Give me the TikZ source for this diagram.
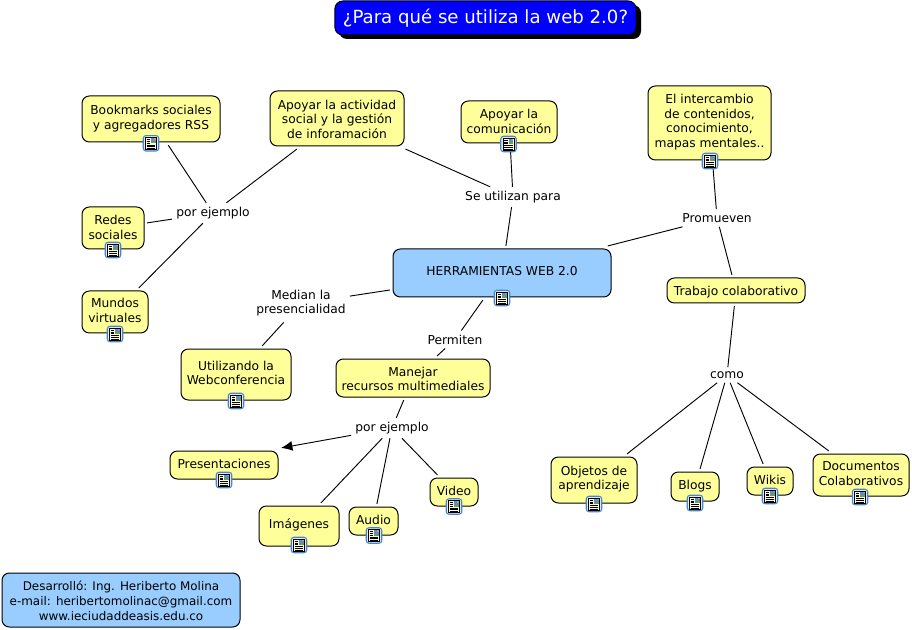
\documentclass[tikz,border=0pt]{standalone}
\usepackage{fontspec}
\setmainfont{DejaVu Sans}
\usetikzlibrary{arrows.meta,calc}
\definecolor{conceptfill}{HTML}{FFFF99}
\definecolor{bluefill}{HTML}{99CCFF}
\definecolor{iconblue}{HTML}{4A86C8}
\definecolor{iconpale}{HTML}{DCE9F7}
\definecolor{iconpage}{HTML}{FFFBE0}
\definecolor{iconsky}{HTML}{5A8FD0}
\definecolor{iconland}{HTML}{6F9A5A}
\definecolor{iconsun}{HTML}{E8925A}
\newcommand{\textsizes}{\fontsize{9.2pt}{11pt}\selectfont}
\tikzset{
  x=0.75pt,y=-0.75pt,
  conceptbox/.style={draw=black,line width=0.75pt,rounded corners=5.5pt,fill=conceptfill,font=\textsizes,text=black,inner sep=0pt,outer sep=2.3pt},
  linktext/.style={font=\textsizes,inner sep=0pt,outer sep=3.2pt,text=black},
  conn/.style={draw=black,line width=0.7pt},
  arrowconn/.style={conn,-{Latex[length=8.5pt,width=7.5pt]}},
  iconframe/.style={draw=iconblue,line width=0.8pt,fill=iconpale,rounded corners=2pt,minimum size=11.6pt,inner sep=0pt},
}
\newcommand{\stacked}[1]{\begin{tabular}{@{}c@{}}#1\end{tabular}}
% \cbox[fill]{name}{x1}{y1}{x2}{y2}{lift in pt}{text}
\newcommand{\cbox}[8][conceptfill]{%
  \node[conceptbox,fill=#1,minimum width={(#5-#3)*0.75pt},minimum height={(#6-#4)*0.75pt}] (#2) at ({(#3+#5)/2},{(#4+#6)/2}) {\raisebox{\dimexpr #7pt-1.9pt\relax}[\height][\depth]{\stacked{#8}}};}
\newcommand{\noteicon}[3]{%
  \node[iconframe] (#1) at (#2,#3) {};
  \draw[black,line width=0.4pt,fill=iconpage] ($(#1.center)+(-5.5,-6)$) rectangle ($(#1.center)+(5.5,6)$);
  \fill[iconsky] ($(#1.center)+(0,-5.2)$) rectangle ($(#1.center)+(4.7,0)$);
  \fill[iconland] ($(#1.center)+(0,-1.8)$) rectangle ($(#1.center)+(4.7,0)$);
  \fill[iconsun] ($(#1.center)+(3,-5.2)$) rectangle ($(#1.center)+(4.7,-3.6)$);
  \foreach \yy in {-4,-2.2,-0.4}{\draw[black,line width=0.38pt] ($(#1.center)+(-4.2,\yy)$) -- ($(#1.center)+(-1,\yy)$);}
  \foreach \yy in {1.6,3.2,4.8}{\draw[black,line width=0.38pt] ($(#1.center)+(-4.2,\yy)$) -- ($(#1.center)+(4.2,\yy)$);}
}
\begin{document}
\begin{tikzpicture}
\useasboundingbox (0,0) rectangle (912,630);
% title
\fill[black,rounded corners=6pt] (339,5) rectangle (641,39);
\node[draw=black,line width=0.75pt,fill=blue,rounded corners=6pt,minimum width=226pt,minimum height=25.5pt,inner sep=0pt,text=white,font=\fontsize{13.6pt}{16pt}\selectfont] (title) at (485.5,18) {¿Para qué se utiliza la web 2.0?};
% concepts
\cbox{book}{82}{96}{220}{142}{1.9}{Bookmarks sociales\\ y agregadores RSS}
\cbox{act}{270}{91}{404}{146}{0}{Apoyar la actividad\\social y la gestión\\de inforamación}
\cbox{com}{461}{101}{557}{143}{1.1}{Apoyar la\\comunicación}
\cbox{inter}{648}{86}{771}{160}{2.2}{El intercambio\\de contenidos,\\conocimiento,\\mapas mentales..}
\cbox{redes}{82}{207}{144}{249}{1.1}{Redes\\sociales}
\cbox{mundos}{82}{291}{148}{333}{1.9}{Mundos\\virtuales}
\cbox[bluefill]{herr}{393}{249}{611}{297}{2.2}{HERRAMIENTAS WEB 2.0}
\cbox{trab}{667}{278}{805}{303}{0}{Trabajo colaborativo}
\cbox{util}{181}{349}{291}{400}{1.9}{Utilizando la\\Webconferencia}
\cbox{manejar}{336}{359}{490}{397}{0}{Manejar\\recursos multimediales}
\cbox{pres}{170}{451}{278}{479}{1.5}{Presentaciones}
\cbox{imag}{259}{506}{339}{546}{2.2}{Imágenes}
\cbox{audio}{349}{507}{398}{535}{1.5}{Audio}
\cbox{video}{430}{478}{478}{506}{1.5}{Video}
\cbox{obj}{551}{457}{637}{503}{2.2}{Objetos de\\aprendizaje}
\cbox{blogs}{671}{472}{719}{501}{1.9}{Blogs}
\cbox{wikis}{747}{467}{793}{495}{1.5}{Wikis}
\cbox{docs}{813}{454}{909}{496}{1.9}{Documentos\\Colaborativos}
\cbox[bluefill]{foot}{2}{573}{240}{627}{0}{\fontsize{8.95pt}{11pt}\selectfont Desarrolló: Ing. Heriberto Molina\\\fontsize{8.95pt}{11pt}\selectfont e-mail: heribertomolinac@gmail.com\\\fontsize{8.95pt}{11pt}\selectfont www.ieciudaddeasis.edu.co}
% linking phrases
\node[linktext] (seutil) at (513,197) {Se utilizan para};
\node[linktext] (ej1) at (213,213) {por ejemplo};
\node[linktext] (prom) at (717,218) {Promueven};
\node[linktext] (median) at (301,303.5) {\stacked{Median la\\presencialidad}};
\node[linktext] (perm) at (455,339.5) {Permiten};
\node[linktext] (ej2) at (392,428) {por ejemplo};
\node[linktext] (como) at (727,375) {como};
% connectors
\draw[conn] (book) -- (ej1);
\draw[conn] (act) -- (ej1);
\draw[conn] (redes) -- (ej1);
\draw[conn] (mundos) -- (ej1);
\draw[conn] (act) -- (seutil);
\draw[conn] (com) -- (seutil);
\draw[conn] (seutil) -- (herr);
\draw[conn] (herr) -- (prom);
\draw[conn] (prom) -- (inter);
\draw[conn] (prom) -- (trab);
\draw[conn] (herr) -- (median);
\draw[conn] (median) -- (util);
\draw[conn] (herr) -- (perm);
\draw[conn] (perm) -- (manejar);
\draw[conn] (manejar) -- (ej2);
\draw[arrowconn] (ej2) -- (pres.north east);
\draw[conn] (ej2) -- (imag);
\draw[conn] (ej2) -- (audio);
\draw[conn] (ej2) -- (video);
\draw[conn] (trab) -- (como);
\draw[conn] (como) -- (obj);
\draw[conn] (como) -- (blogs);
\draw[conn] (como) -- (wikis);
\draw[conn] (como) -- (docs);
% icons
\noteicon{i1}{151}{143.3}
\noteicon{i2}{508.5}{144}
\noteicon{i3}{710}{161}
\noteicon{i4}{113}{250}
\noteicon{i5}{115}{334}
\noteicon{i6}{502}{298}
\noteicon{i7}{236}{401}
\noteicon{i8}{224}{480}
\noteicon{i9}{299}{545}
\noteicon{i10}{374}{535.5}
\noteicon{i11}{454}{506.5}
\noteicon{i12}{594}{504}
\noteicon{i13}{695}{503}
\noteicon{i14}{770}{496}
\noteicon{i15}{860}{497}
\end{tikzpicture}
\end{document}
